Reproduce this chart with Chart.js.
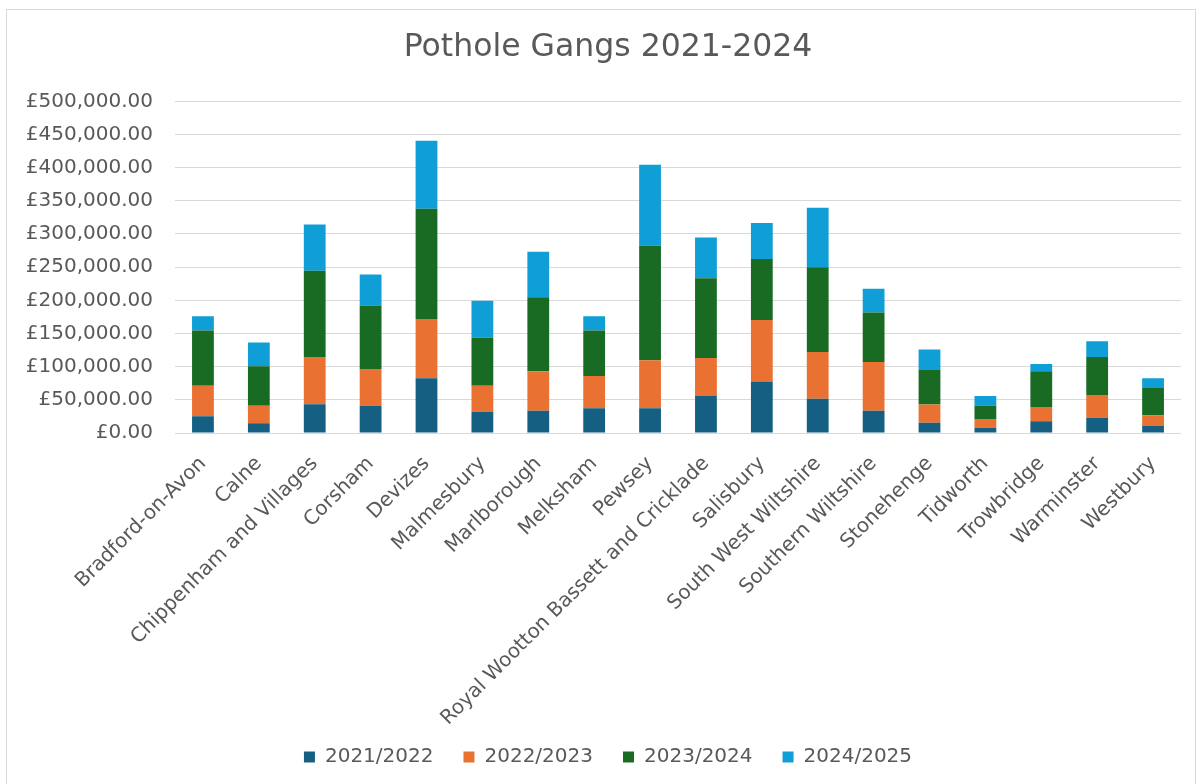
<!DOCTYPE html>
<html>
<head>
<meta charset="utf-8">
<script src="https://cdn.jsdelivr.net/npm/chart.js@4"></script>
<style>
  html, body { margin: 0; padding: 0; background: #fff; }
  #wrap { position: absolute; left: 6px; top: 9px; width: 1190px; height: 790px; border: 1px solid #d9d9d9; box-sizing: border-box; }
  canvas { display: block; }
</style>
</head>
<body>
<div id="wrap"><canvas id="c"></canvas></div>
<script>
const categories = ["Bradford-on-Avon","Calne","Chippenham and Villages","Corsham","Devizes","Malmesbury","Marlborough","Melksham","Pewsey","Royal Wootton Bassett and Cricklade","Salisbury","South West Wiltshire","Southern Wiltshire","Stonehenge","Tidworth","Trowbridge","Warminster","Westbury"];
const seriesNames = ["2021/2022","2022/2023","2023/2024","2024/2025"];
const y2021 = [25200,14600,43300,41200,82500,32200,33700,37200,37200,55800,77500,51800,33700,15600,8000,17600,23100,10600];
const y2022 = [46200,26600,71400,55400,89500,39200,59400,48800,72500,57400,93000,70400,73400,27200,13100,21600,34200,16100];
const y2023 = [83000,59400,129800,95600,166000,72000,111600,68400,172500,120200,91600,127800,74500,52300,20100,53900,57400,41200];
const y2024 = [21600,35700,69900,46700,102600,55800,68400,21600,122200,61400,54300,89500,35700,30700,14600,11000,23600,14600];
const colors = ["#156082","#E97132","#196B24","#0F9ED5"];
const yTicks = [0,50000,100000,150000,200000,250000,300000,350000,400000,450000,500000];

const fontFam = "'DejaVu Sans', sans-serif";
const grey = "#595959";
const cv = document.getElementById('c');
const W = 1188, H = 773;
cv.width = W; cv.height = H;
cv.style.width = W + 'px'; cv.style.height = H + 'px';

const noLabelClip = {
  id: 'noLabelClip',
  afterLayout(chart) {
    Object.values(chart.scales).forEach(s => { s._computeLabelArea = function () { return undefined; }; });
  }
};

const seriesValues = [y2021, y2022, y2023, y2024];
new Chart(cv, {
  type: 'bar',
  data: {
    labels: categories,
    datasets: seriesNames.map((n, i) => ({
      label: n,
      data: seriesValues[i],
      backgroundColor: colors[i],
      borderWidth: 0,
      barPercentage: 0.78,
      categoryPercentage: 0.5
    }))
  },
  plugins: [noLabelClip],
  options: {
    responsive: false,
    animation: false,
    maintainAspectRatio: false,
    layout: { padding: { left: 28, right: 14, top: 0, bottom: 6 } },
    plugins: {
      title: {
        display: true,
        text: "Pothole Gangs 2021-2024",
        color: grey,
        font: { family: fontFam, size: 31.5, weight: 'normal' },
        padding: { top: 19, bottom: 34.5 }
      },
      legend: {
        position: 'bottom',
        labels: {
          color: grey,
          font: { family: fontFam, size: 20 },
          boxWidth: 11, boxHeight: 11,
          padding: 30
        }
      },
      tooltip: { enabled: false }
    },
    scales: {
      x: {
        stacked: true,
        grid: { display: false },
        border: { display: false },
        afterFit: (s) => { s.height = 284; },
        ticks: {
          color: grey,
          padding: 11,
          font: { family: fontFam, size: 20 },
          maxRotation: 45, minRotation: 45,
          autoSkip: false
        }
      },
      y: {
        stacked: true,
        min: 0, max: 500000,
        afterBuildTicks: (ax) => { ax.ticks = yTicks.map(v => ({ value: v })); },
        afterFit: (s) => { s.width = 140; },
        grid: { color: "#d9d9d9", lineWidth: 1, drawTicks: false },
        border: { display: false },
        ticks: {
          color: grey,
          padding: 22,
          font: { family: fontFam, size: 20 },
          callback: (v) => "£" + Number(v).toLocaleString('en-GB', { minimumFractionDigits: 2, maximumFractionDigits: 2 })
        }
      }
    }
  }
});
</script>
</body>
</html>
